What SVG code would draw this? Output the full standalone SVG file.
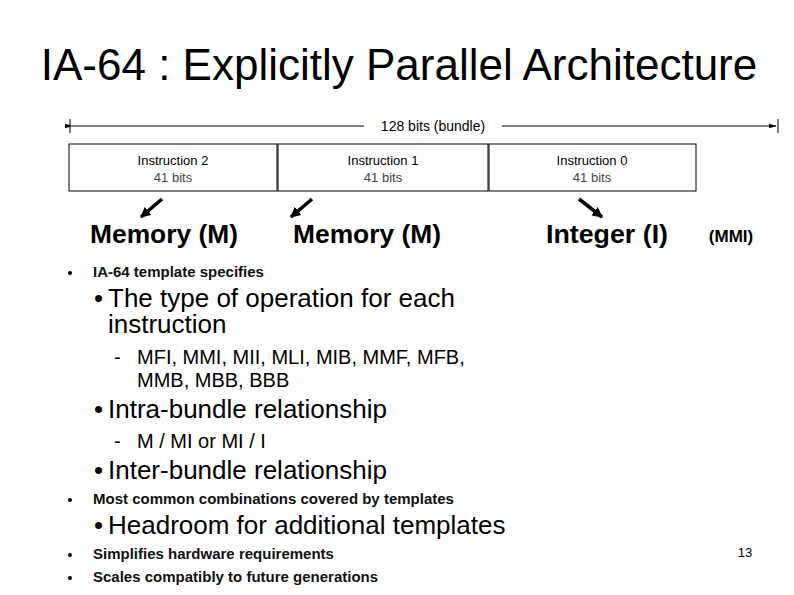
<svg xmlns="http://www.w3.org/2000/svg" width="794" height="595" viewBox="0 0 794 595">
<style>
text{font-family:"Liberation Sans",Arial,sans-serif;fill:#000}
.box{fill:#fff;stroke:#000;stroke-width:1}
.s{font-size:13px;text-anchor:middle}
.g{fill:#444}
.big{font-size:25px;text-anchor:middle;font-weight:bold}
.b1{font-size:15px;font-weight:bold;fill:#111}
.b2{font-size:26px}
.b3{font-size:20px}
</style>
<defs>
<marker id="ah" viewBox="0 0 10 10" refX="9" refY="5" markerWidth="3" markerHeight="3" orient="auto"><path d="M0,0L10,5L0,10z" fill="#000"/></marker>
<marker id="tk" viewBox="0 0 10 10" refX="9" refY="5" markerWidth="8" markerHeight="8" orient="auto"><path d="M0,2L10,5L0,8z" fill="#000"/></marker>
</defs>
<rect width="794" height="595" fill="#fff"/>
<text x="399" y="80" font-size="44" text-anchor="middle">IA-64 : Explicitly Parallel Architecture</text>
<g id="connectors" stroke="#000">
<line x1="72" y1="126" x2="364" y2="126" marker-start="url(#tk)" stroke-width="1"/>
<line x1="502" y1="126" x2="776" y2="126" marker-end="url(#tk)" stroke-width="1"/>
<line x1="70" y1="119" x2="70" y2="133"/><line x1="778" y1="119" x2="778" y2="133"/>
<line x1="162" y1="199" x2="141" y2="217" stroke-width="3.5" marker-end="url(#ah)"/>
<line x1="312" y1="199" x2="291" y2="217" stroke-width="3.5" marker-end="url(#ah)"/>
<line x1="579" y1="199" x2="602" y2="217" stroke-width="3.5" marker-end="url(#ah)"/>
</g>
<text x="433" y="131" font-size="14" text-anchor="middle">128 bits (bundle)</text>
<g id="n2"><rect class="box" x="69" y="144" width="208" height="47"/><text class="s" x="173" y="165">Instruction 2</text><text class="s g" x="173" y="182">41 bits</text></g>
<g id="n1"><rect class="box" x="278" y="144" width="210" height="47"/><text class="s" x="383" y="165">Instruction 1</text><text class="s g" x="383" y="182">41 bits</text></g>
<g id="n0"><rect class="box" x="489" y="144" width="207" height="47"/><text class="s" x="592" y="165">Instruction 0</text><text class="s g" x="592" y="182">41 bits</text></g>
<text class="big" x="164" y="243" textLength="148" lengthAdjust="spacingAndGlyphs">Memory (M)</text>
<text class="big" x="367" y="243" textLength="148" lengthAdjust="spacingAndGlyphs">Memory (M)</text>
<text class="big" x="607" y="243" textLength="122" lengthAdjust="spacingAndGlyphs">Integer (I)</text>
<text x="731" y="242" font-size="17" text-anchor="middle" font-weight="bold">(MMI)</text>
<g id="bullets">
<circle cx="70" cy="273" r="2"/><text class="b1" x="93" y="277">IA-64 template specifies</text>
<text class="b2" x="94" y="307">•</text><text class="b2" x="108" y="307">The type of operation for each</text>
<text class="b2" x="108" y="333">instruction</text>
<text class="b3" x="114" y="364">-</text><text class="b3" x="137" y="364">MFI, MMI, MII, MLI, MIB, MMF, MFB,</text>
<text class="b3" x="137" y="387">MMB, MBB, BBB</text>
<text class="b2" x="94" y="418">•</text><text class="b2" x="108" y="418">Intra-bundle relationship</text>
<text class="b3" x="114" y="448">-</text><text class="b3" x="137" y="448">M / MI or MI / I</text>
<text class="b2" x="94" y="479">•</text><text class="b2" x="108" y="479">Inter-bundle relationship</text>
<circle cx="70" cy="500" r="2"/><text class="b1" x="93" y="504">Most common combinations covered by templates</text>
<text class="b2" x="94" y="534">•</text><text class="b2" x="108" y="534">Headroom for additional templates</text>
<circle cx="70" cy="555" r="2"/><text class="b1" x="93" y="559">Simplifies hardware requirements</text>
<circle cx="70" cy="578" r="2"/><text class="b1" x="93" y="582">Scales compatibly to future generations</text>
</g>
<text x="745" y="557" font-size="13" text-anchor="middle">13</text>
</svg>
